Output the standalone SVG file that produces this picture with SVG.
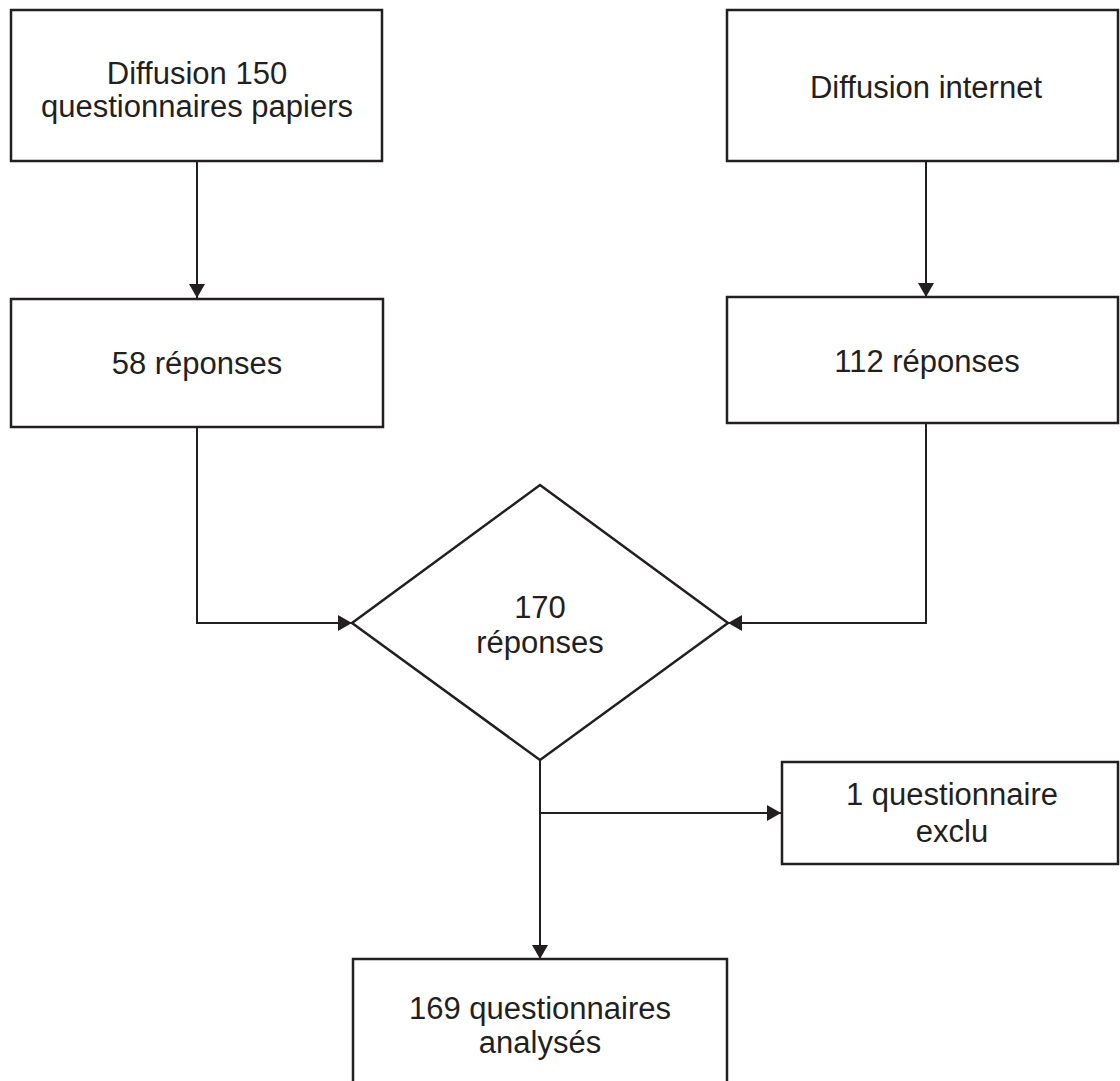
<svg xmlns="http://www.w3.org/2000/svg" width="1120" height="1081" viewBox="0 0 1120 1081">
<style>
.box{fill:#fff;stroke:#231f20;stroke-width:2.5}
.lbl{font-family:"Liberation Sans",Arial,sans-serif;font-size:31px;fill:#231f20;text-anchor:middle}
.con{fill:none;stroke:#231f20;stroke-width:2}
</style>
<defs>
<marker id="ah" markerWidth="14" markerHeight="16" refX="14" refY="8" orient="auto" markerUnits="userSpaceOnUse">
<path d="M0,0 L14,8 L0,16 Z" fill="#231f20"/>
</marker>
</defs>
<rect width="1120" height="1081" fill="#fff"/>
<g id="connectors">
<path class="con" d="M197,161 V298" marker-end="url(#ah)"/>
<path class="con" d="M926,161 V297" marker-end="url(#ah)"/>
<path class="con" d="M197,427 V623 H352" marker-end="url(#ah)"/>
<path class="con" d="M926,423 V623 H728" marker-end="url(#ah)"/>
<path class="con" d="M540,760 V959" marker-end="url(#ah)"/>
<path class="con" d="M540,813 H781" marker-end="url(#ah)"/>
</g>
<g id="n-papier">
<rect class="box" x="11" y="10" width="371" height="151"/>
<text class="lbl" x="197" y="84">Diffusion 150</text>
<text class="lbl" x="197" y="117">questionnaires papiers</text>
</g>
<g id="n-internet">
<rect class="box" x="727" y="10" width="391" height="151"/>
<text class="lbl" x="926" y="98">Diffusion internet</text>
</g>
<g id="n-58">
<rect class="box" x="11" y="299" width="372" height="128"/>
<text class="lbl" x="197" y="374">58 réponses</text>
</g>
<g id="n-112">
<rect class="box" x="727" y="297" width="391" height="126"/>
<text class="lbl" x="927" y="372">112 réponses</text>
</g>
<g id="n-170">
<polygon class="box" points="540,485 728,623 540,760 352,623"/>
<text class="lbl" x="540" y="618">170</text>
<text class="lbl" x="540" y="653">réponses</text>
</g>
<g id="n-exclu">
<rect class="box" x="782" y="762" width="336" height="102"/>
<text class="lbl" x="952" y="805">1 questionnaire</text>
<text class="lbl" x="952" y="842">exclu</text>
</g>
<g id="n-169">
<rect class="box" x="353" y="959" width="374" height="140"/>
<text class="lbl" x="540" y="1019">169 questionnaires</text>
<text class="lbl" x="540" y="1053">analysés</text>
</g>
</svg>
